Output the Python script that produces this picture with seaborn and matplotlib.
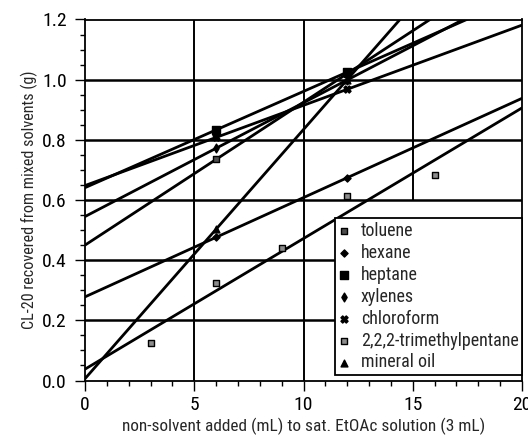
import os
import numpy as np
import pandas as pd
import matplotlib
matplotlib.use("Agg")
import matplotlib.pyplot as plt
import seaborn as sns
from matplotlib.ticker import MultipleLocator, FormatStrFormatter
from matplotlib import font_manager
from matplotlib.font_manager import FontProperties

# ---------------- data ----------------
solvents = ["toluene", "hexane", "heptane", "xylenes", "chloroform",
            "2,2,2-trimethylpentane", "mineral oil"]
toluene_x = [6, 12]
toluene_y = [0.735, 1.020]
hexane_x = [6, 12]
hexane_y = [0.476, 0.674]
heptane_x = [6, 12]
heptane_y = [0.833, 1.025]
xylenes_x = [6, 12]
xylenes_y = [0.772, 0.999]
chloroform_x = [6, 12]
chloroform_y = [0.808, 0.968]
tmp_x = [3, 6, 9, 12, 16]
tmp_y = [0.124, 0.325, 0.441, 0.613, 0.683]
oil_x = [6, 12]
oil_y = [0.503, 1.000]

xs = [toluene_x, hexane_x, heptane_x, xylenes_x, chloroform_x, tmp_x, oil_x]
ys = [toluene_y, hexane_y, heptane_y, xylenes_y, chloroform_y, tmp_y, oil_y]

x_ticks = [0, 5, 10, 15, 20]
y_ticks = [0.0, 0.2, 0.4, 0.6, 0.8, 1.0, 1.2]
x_label = "non-solvent added (mL) to sat. EtOAc solution (3 mL)"
y_label = "CL-20 recovered from mixed solvents (g)"

# ---------------- fonts ----------------
sns.set_theme(style="white")
prefs = ["liberationsansnarrow-regular", "arialnarrow", "robotocondensed-regular",
         "opensans_condensed-regular", "opensanscondensed", "dejavusanscondensed.ttf"]
narrow_file = None
files = [f.fname for f in font_manager.fontManager.ttflist]
for p in prefs:
    for fn in files:
        if p in os.path.basename(fn).lower().replace(" ", ""):
            narrow_file = fn
            break
    if narrow_file:
        break

plt.rcParams["font.family"] = ["Liberation Sans", "DejaVu Sans"]
if narrow_file:
    sz_tick, sz_lab, sz_ylab, sz_leg = 14, 12.4, 11.6, 13.0
    def fp(size):
        return FontProperties(fname=narrow_file, size=size)
else:
    sz_tick, sz_lab, sz_ylab, sz_leg = 12.2, 11.2, 10.2, 11.2
    def fp(size):
        return FontProperties(family=["Liberation Sans", "DejaVu Sans"], size=size)

styles = {
    "toluene": dict(marker="s", s=18, facecolor="0.3", edgecolor="black"),
    "hexane": dict(marker="D", s=13, facecolor="black", edgecolor="black"),
    "heptane": dict(marker="s", s=30, facecolor="black", edgecolor="black"),
    "xylenes": dict(marker="d", s=20, facecolor="black", edgecolor="black"),
    "chloroform": dict(marker="X", s=26, facecolor="black", edgecolor="black"),
    "2,2,2-trimethylpentane": dict(marker="s", s=24, facecolor="0.55", edgecolor="black"),
    "mineral oil": dict(marker="^", s=24, facecolor="black", edgecolor="black"),
}

fig = plt.figure(figsize=(5.28, 4.37), dpi=100)
ax = fig.add_axes([85 / 528, 1 - 380.5 / 437, (522 - 85) / 528, (380.5 - 19.5) / 437])
ax.set_xlim(0, 20)
ax.set_ylim(0, 1.2)

for name, xv, yv in zip(solvents, xs, ys):
    df = pd.DataFrame({"x": xv, "y": yv})
    st = styles[name]
    sns.regplot(data=df, x="x", y="y", ax=ax, ci=None, truncate=False,
                marker=st["marker"], label=name,
                scatter_kws=dict(s=st["s"], facecolor=st["facecolor"],
                                 edgecolor=st["edgecolor"], linewidths=1.0,
                                 zorder=4, alpha=1),
                line_kws=dict(color="black", lw=2.0, zorder=3))

ax.set_xlim(0, 20)
ax.set_ylim(0, 1.2)
ax.set_xticks(x_ticks)
ax.set_yticks(y_ticks)
ax.yaxis.set_major_formatter(FormatStrFormatter("%.1f"))
ax.xaxis.set_minor_locator(MultipleLocator(1))
ax.yaxis.set_minor_locator(MultipleLocator(0.05))
ax.tick_params(which="major", direction="out", length=7, width=1.0,
               colors="black", bottom=True, left=True)
ax.tick_params(axis="y", which="major", pad=6)
ax.tick_params(axis="x", which="major", pad=4)
ax.tick_params(which="minor", direction="out", length=3.5, width=1.0,
               colors="black", bottom=True, left=True)
for lbl in ax.get_xticklabels() + ax.get_yticklabels():
    lbl.set_fontproperties(fp(sz_tick))

for v in y_ticks[1:-1]:
    ax.axhline(v, color="black", lw=1.8, zorder=1)
for v in x_ticks[1:-2]:
    ax.axvline(v, color="black", lw=1.4, zorder=1)
ax.axvline(x_ticks[-2], ymin=0.5, color="black", lw=1.4, zorder=1)

for sp in ax.spines.values():
    sp.set_visible(True)
    sp.set_color("black")
    sp.set_linewidth(1.3)

ax.set_xlabel(x_label, fontproperties=fp(sz_lab), labelpad=3)
ax.set_ylabel(y_label, fontproperties=fp(sz_ylab), labelpad=3)

leg = ax.legend(loc="lower right", bbox_to_anchor=(1.0, 0.015), borderaxespad=0,
                frameon=True, fancybox=False, framealpha=1, edgecolor="black",
                prop=fp(sz_leg), handlelength=0.6, handletextpad=0.6,
                labelspacing=0.22, borderpad=0.2, markerscale=1.0)
leg.get_frame().set_linewidth(1.3)
leg.set_zorder(10)

fig.savefig("out.png", dpi=100)
